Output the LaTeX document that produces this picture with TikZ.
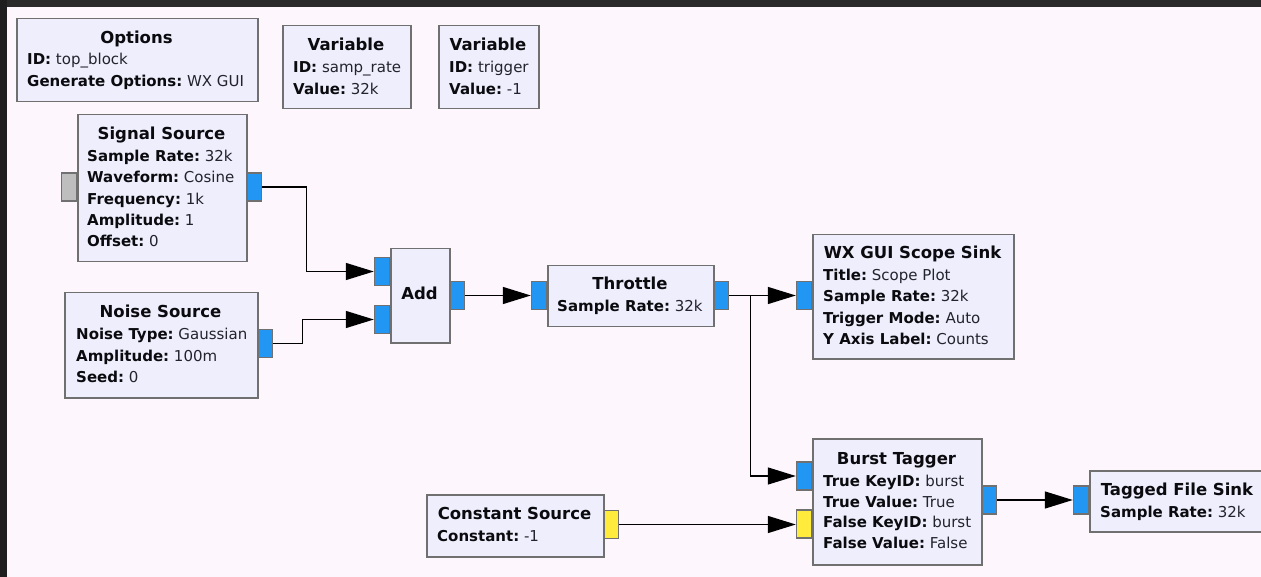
\documentclass[tikz,border=0pt]{standalone}
\usepackage{fontspec}
\setmainfont{DejaVu Sans}
\usetikzlibrary{arrows.meta}
\definecolor{bg}{RGB}{253,247,253}
\definecolor{blkfill}{RGB}{238,238,252}
\definecolor{blkdraw}{RGB}{112,112,112}
\definecolor{portblue}{RGB}{33,150,243}
\definecolor{portyellow}{RGB}{255,235,59}
\definecolor{portgray}{RGB}{190,190,190}
\definecolor{frameA}{RGB}{30,30,30}
\definecolor{frameB}{RGB}{42,42,42}
\definecolor{keyc}{RGB}{10,10,15}
\definecolor{valc}{RGB}{35,35,45}
\newcommand\kv[2]{\textbf{\color{keyc}#1}\ {\color{valc}#2}}
\tikzset{
  blk/.style={draw=blkdraw, fill=blkfill, line width=1.5pt, rectangle, inner sep=0pt, anchor=north west},
  port/.style={draw=blkdraw, line width=1.2pt, rectangle, inner sep=0pt, minimum width=15pt, minimum height=28pt},
  bport/.style={port, fill=portblue},
  yport/.style={port, fill=portyellow},
  gport/.style={port, fill=portgray},
  ttl/.style={font=\fontsize{16.5}{18}\selectfont\bfseries, text=keyc, inner sep=0pt, anchor=base},
  row/.style={font=\fontsize{15}{17}\selectfont, inner sep=0pt, anchor=base west},
  wire/.style={draw=black, line width=1.4pt, -{Triangle[length=28pt,width=17pt]}},
}
\begin{document}
\begin{tikzpicture}[x=1pt,y=-1pt]
\useasboundingbox (0,0) rectangle (1261,577);
\clip (0,0) rectangle (1261,577);
\fill[bg] (0,0) rectangle (1261,577);
\fill[frameB] (0,0) rectangle (1261,7);
\fill[frameA] (0,0) rectangle (7,577);

% Options
\node[blk, minimum width=241pt, minimum height=83pt] (opt) at (16,18) {};
\node[ttl] (opt-t) at (136.5,43.5) {Options};
\node[row] (opt-r1) at (27,65) {\kv{ID:}{top\_block}};
\node[row] (opt-r2) at (27,86.5) {\kv{Generate Options:}{WX GUI}};

% Variable samp_rate
\node[blk, minimum width=128pt, minimum height=83pt] (var1) at (282,25) {};
\node[ttl] (var1-t) at (346,51) {Variable};
\node[row] (var1-r1) at (293,72.5) {\kv{ID:}{samp\_rate}};
\node[row] (var1-r2) at (293,94.5) {\kv{Value:}{32k}};

% Variable trigger
\node[blk, minimum width=100pt, minimum height=83pt] (var2) at (438,25) {};
\node[ttl] (var2-t) at (488,51) {Variable};
\node[row] (var2-r1) at (449,72.5) {\kv{ID:}{trigger}};
\node[row] (var2-r2) at (449,94.5) {\kv{Value:}{-1}};

% Signal Source
\node[gport, anchor=east] (sigin) at (77,187) {};
\node[bport, anchor=west] (sigout) at (246,187) {};
\node[blk, minimum width=169pt, minimum height=147pt] (sig) at (77,114) {};
\node[ttl] (sig-t) at (161.5,140) {Signal Source};
\node[row] (sig-r1) at (87,161.5) {\kv{Sample Rate:}{32k}};
\node[row] (sig-r2) at (87,183) {\kv{Waveform:}{Cosine}};
\node[row] (sig-r3) at (87,204.5) {\kv{Frequency:}{1k}};
\node[row] (sig-r4) at (87,225.5) {\kv{Amplitude:}{1}};
\node[row] (sig-r5) at (87,246.5) {\kv{Offset:}{0}};

% Noise Source
\node[bport, anchor=west] (noiout) at (257,343.5) {};
\node[blk, minimum width=193pt, minimum height=105pt] (noi) at (64,292) {};
\node[ttl] (noi-t) at (160.5,317.7) {Noise Source};
\node[row] (noi-r1) at (76,339.5) {\kv{Noise Type:}{Gaussian}};
\node[row] (noi-r2) at (76,361.5) {\kv{Amplitude:}{100m}};
\node[row] (noi-r3) at (76,382.5) {\kv{Seed:}{0}};

% Add
\node[bport, anchor=east] (addin1) at (390,271.5) {};
\node[bport, anchor=east] (addin2) at (390,319.5) {};
\node[bport, anchor=west] (addout) at (449,295.5) {};
\node[blk, minimum width=59pt, minimum height=94pt] (add) at (390,248) {};
\node[ttl] (add-t) at (419.5,300) {Add};

% Throttle
\node[bport, anchor=east] (thrin) at (547,295.5) {};
\node[bport, anchor=west] (throut) at (713,295.5) {};
\node[blk, minimum width=166pt, minimum height=61pt] (thr) at (547,265) {};
\node[ttl] (thr-t) at (630,290) {Throttle};
\node[row] (thr-r1) at (557,311.5) {\kv{Sample Rate:}{32k}};

% WX GUI Scope Sink
\node[bport, anchor=east] (scpin) at (812,295.5) {};
\node[blk, minimum width=201pt, minimum height=124pt] (scp) at (812,234) {};
\node[ttl] (scp-t) at (912.5,258.7) {WX GUI Scope Sink};
\node[row] (scp-r1) at (823,281) {\kv{Title:}{Scope Plot}};
\node[row] (scp-r2) at (823,301.5) {\kv{Sample Rate:}{32k}};
\node[row] (scp-r3) at (823,323.5) {\kv{Trigger Mode:}{Auto}};
\node[row] (scp-r4) at (823,344.5) {\kv{Y Axis Label:}{Counts}};

% Burst Tagger
\node[bport, anchor=east] (btin1) at (812,476) {};
\node[yport, anchor=east] (btin2) at (812,524) {};
\node[bport, anchor=west] (btout) at (981,500) {};
\node[blk, minimum width=169pt, minimum height=126pt] (bt) at (812,438) {};
\node[ttl] (bt-t) at (896.5,464) {Burst Tagger};
\node[row] (bt-r1) at (823,486.5) {\kv{True KeyID:}{burst}};
\node[row] (bt-r2) at (823,507.5) {\kv{True Value:}{True}};
\node[row] (bt-r3) at (823,527.5) {\kv{False KeyID:}{burst}};
\node[row] (bt-r4) at (823,548.5) {\kv{False Value:}{False}};

% Constant Source
\node[yport, anchor=west] (cstout) at (603,524.5) {};
\node[blk, minimum width=177pt, minimum height=62pt] (cst) at (426,494) {};
\node[ttl] (cst-t) at (514.5,519) {Constant Source};
\node[row] (cst-r1) at (437,541.5) {\kv{Constant:}{-1}};

% Tagged File Sink
\node[bport, anchor=east] (tfin) at (1089,500) {};
\node[blk, minimum width=176pt, minimum height=61pt] (tf) at (1089,470) {};
\node[ttl] (tf-t) at (1177,495.5) {Tagged File Sink};
\node[row] (tf-r1) at (1100,517.5) {\kv{Sample Rate:}{32k}};

% Wires
\draw[wire] (sigout.east) -- ++(44,0) |- (addin1.west);
\draw[wire] (noiout.east) -- ++(29,0) |- (addin2.west);
\draw[wire] (addout.east) -- (thrin.west);
\draw[wire] (throut.east) -- (scpin.west);
\draw[wire] (throut.east) -- ++(21,0) |- (btin1.west);
\draw[wire] (cstout.east) -- (btin2.west |- cstout.east);
\draw[wire] (btout.east) -- (tfin.west);
\end{tikzpicture}
\end{document}
